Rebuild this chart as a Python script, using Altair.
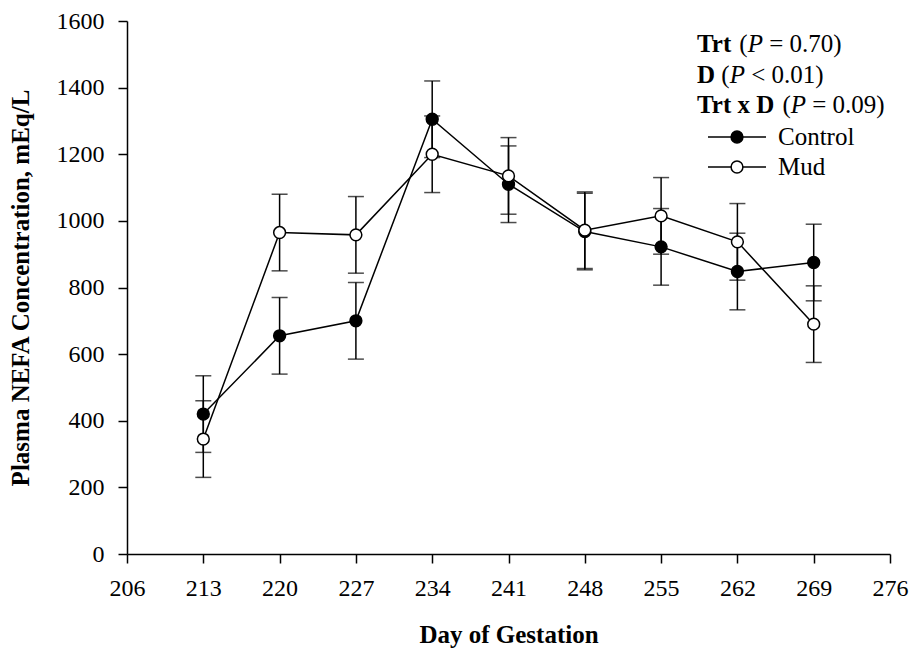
import altair as alt
import pandas as pd

# ---- data -------------------------------------------------------------
days = [213, 220, 227, 234, 241, 248, 255, 262, 269]
control_mean = [420, 655, 700, 1305, 1110, 968, 922, 848, 875]
control_se = [115, 115, 115, 115, 115, 115, 115, 115, 115]
mud_mean = [345, 965, 958, 1200, 1135, 972, 1015, 937, 690]
mud_se = [115, 115, 115, 115, 115, 115, 115, 115, 115]
groups = ["Control", "Mud"]
x_ticks = [206, 213, 220, 227, 234, 241, 248, 255, 262, 269, 276]
y_ticks = [0, 200, 400, 600, 800, 1000, 1200, 1400, 1600]

# statistics lines: (text, style) segments
stat_lines = [
    [("Trt", "bold"), (" (", "normal"), ("P", "italic"), (" = 0.70)", "normal")],
    [("D", "bold"), (" (", "normal"), ("P", "italic"), (" < 0.01)", "normal")],
    [("Trt x D", "bold"), (" (", "normal"), ("P", "italic"), (" = 0.09)", "normal")],
]

FONT = "Liberation Serif"
FS_LABEL = 24
FS_TITLE = 25
FS_NOTE = 25

rows = []
for g, means, ses in [("Control", control_mean, control_se), ("Mud", mud_mean, mud_se)]:
    for d, m, s in zip(days, means, ses):
        rows.append({"day": d, "group": g, "mean": m, "lo": m - s, "hi": m + s})
df = pd.DataFrame(rows)

# ---- layout -----------------------------------------------------------
PAD_L, PAD_T, PAD_R, PAD_B = 127, 21, 20, 100
W, H = 910 - PAD_L - PAD_R, 654 - PAD_T - PAD_B

xs = alt.Scale(domain=[206, 276], nice=False, zero=False)
ys = alt.Scale(domain=[0, 1600], nice=False)

x_enc = alt.X(
    "day:Q", scale=xs,
    axis=alt.Axis(values=x_ticks, title="Day of Gestation", format="d",
                  labelPadding=13, titlePadding=22),
)
y_enc = alt.Y(
    "mean:Q", scale=ys,
    axis=alt.Axis(values=y_ticks, title="Plasma NEFA Concentration, mEq/L",
                  format="d", labelPadding=14, titlePadding=23),
)

base = alt.Chart(df)

err = base.mark_rule(color="black", strokeWidth=1.5).encode(
    x=x_enc, y=alt.Y("lo:Q", scale=ys), y2="hi:Q"
)
cap_lo = base.mark_tick(orient="horizontal", size=16, thickness=1.5, color="black").encode(
    x=x_enc, y=alt.Y("lo:Q", scale=ys)
)
cap_hi = base.mark_tick(orient="horizontal", size=16, thickness=1.5, color="black").encode(
    x=x_enc, y=alt.Y("hi:Q", scale=ys)
)
lines = base.mark_line(color="black", strokeWidth=1.5).encode(
    x=x_enc, y=y_enc, detail="group:N"
)
fill_scale = alt.Scale(domain=groups, range=["black", "white"])
points = base.mark_point(
    shape="circle", filled=True, size=140, stroke="black", strokeWidth=1.5, opacity=1
).encode(
    x=x_enc, y=y_enc,
    fill=alt.Fill("group:N", scale=fill_scale, legend=None),
)

layers = [err, cap_lo, cap_hi, lines, points]

# ---- statistics text (mixed bold / italic runs) ------------------------
ADV = {
    "bold": {"T": .667, "r": .444, "t": .333, " ": .25, "x": .5, "D": .722},
    "normal": {"(": .333, ")": .333, " ": .25, "=": .564, "<": .564, ".": .25},
    "italic": {"P": .611},
}


def run_width(text, style):
    table = ADV[style]
    return sum(table.get(c, .5) for c in text) * FS_NOTE


one = pd.DataFrame({"k": [0]})
TX0 = 697 - PAD_L
for i, segs in enumerate(stat_lines):
    xpos = TX0
    ybase = 52 + 30.5 * i - PAD_T
    for text, style in segs:
        lead = len(text) - len(text.lstrip(" "))
        xdraw = xpos + lead * ADV["normal"][" "] * FS_NOTE
        layers.append(
            alt.Chart(one).mark_text(
                align="left", baseline="alphabetic", font=FONT, fontSize=FS_NOTE,
                fontWeight="bold" if style == "bold" else "normal",
                fontStyle="italic" if style == "italic" else "normal",
                color="black",
            ).encode(x=alt.value(xdraw), y=alt.value(ybase), text=alt.value(text.lstrip(" ")))
        )
        xpos += run_width(text, style)

# ---- legend -------------------------------------------------------------
for i, g in enumerate(groups):
    ly = 137 + 30 * i - PAD_T
    lx0, lx1 = 708 - PAD_L, 766 - PAD_L
    gdf = pd.DataFrame({"group": [g]})
    layers.append(
        alt.Chart(gdf).mark_rule(color="black", strokeWidth=1.5).encode(
            x=alt.value(lx0), x2=alt.value(lx1), y=alt.value(ly)
        )
    )
    layers.append(
        alt.Chart(gdf).mark_point(
            shape="circle", filled=True, size=140, stroke="black", strokeWidth=1.5, opacity=1
        ).encode(
            x=alt.value((lx0 + lx1) / 2), y=alt.value(ly),
            fill=alt.Fill("group:N", scale=fill_scale, legend=None),
        )
    )
    layers.append(
        alt.Chart(gdf).mark_text(
            align="left", baseline="middle", font=FONT, fontSize=FS_NOTE, color="black"
        ).encode(x=alt.value(778 - PAD_L), y=alt.value(ly), text="group:N")
    )

chart = (
    alt.layer(*layers)
    .properties(
        width=W, height=H,
        autosize=alt.AutoSizeParams(type="none"),
        padding={"left": PAD_L, "top": PAD_T, "right": PAD_R, "bottom": PAD_B},
        background="white",
    )
    .configure_view(stroke=None)
    .configure_axis(
        grid=False, domainColor="black", domainWidth=1.5, tickColor="black",
        tickWidth=1.5, tickSize=9, labelFont=FONT, labelFontSize=FS_LABEL,
        labelColor="black", titleFont=FONT, titleFontSize=FS_TITLE, titleFontWeight="bold",
        titleColor="black", labelFlush=False, labelOverlap=False,
    )
)

chart.save("out.html", embed_options={"renderer": "svg", "actions": False})
